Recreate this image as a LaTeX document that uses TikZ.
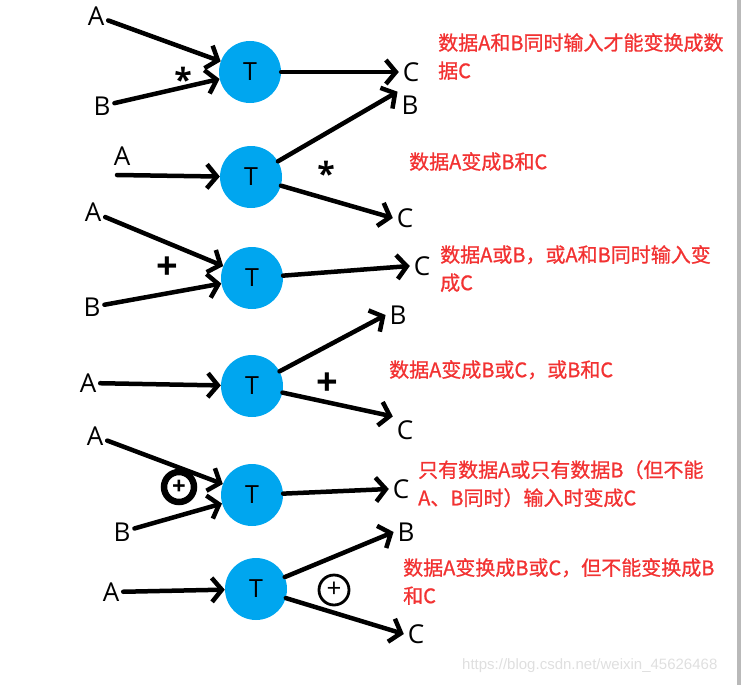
\documentclass[tikz,border=0pt]{standalone}
\usepackage{fontspec}
\setmainfont{Open Sans}
\newfontfamily\cjk[UprightFeatures={FakeBold=0.9}]{Noto Sans CJK SC}
\newfontfamily\wmfont{Liberation Sans}
\usetikzlibrary{arrows.meta}
\definecolor{tcyan}{RGB}{0,166,239}
\definecolor{notered}{RGB}{242,50,50}
\tikzset{
	lbl/.style={inner sep=1pt,outer sep=3pt,font=\fontsize{26}{26}\selectfont},
	proc/.style={circle,fill=tcyan,minimum size=62pt,inner sep=0pt,font=\fontsize{25}{25}\selectfont},
	flow/.style={line width=4.5pt,line cap=round,-{Straight Barb[length=10pt,width=24pt]}},
	sign/.style={inner sep=0pt,font=\bfseries\fontsize{32}{32}\selectfont},
	xorsign/.style={circle,draw,inner sep=0pt},
	note/.style={anchor=north west,align=left,inner sep=0pt,text=notered,font=\cjk\fontsize{20}{28}\selectfont},
}
\begin{document}
\begin{tikzpicture}[x=1pt,y=-1pt]
		\useasboundingbox (0,0) rectangle (741,685);
		\fill[gray!55] (737,0) rectangle (741,685);

		\node[lbl] (a1) at (96,16) {A};
		\node[lbl] (b1) at (102,106) {B};
		\node[proc] (t1) at (250,72) {T};
		\node[lbl] (c1) at (411,72) {C};
		\node[sign] (star1) at (183,79) {*};
		\draw[flow] (a1) -- (t1);
		\draw[flow] (b1) -- (t1);
		\draw[flow] (t1) -- (c1.west);

		\node[lbl] (a2) at (122,156) {A};
		\coordinate (in2) at (117,175);
		\node[proc] (t2) at (251,177) {T};
		\node[lbl] (b2) at (410,105) {B};
		\node[lbl] (c2) at (405,218) {C};
		\node[sign] (star2) at (326,173) {*};
		\draw[flow] (in2) -- (t2);
		\draw[flow] (t2) -- (b2.north west);
		\draw[flow] (t2) -- (c2.west);

		\node[lbl] (a3) at (93,212) {A};
		\node[lbl] (b3) at (92,307) {B};
		\node[proc] (t3) at (252,278) {T};
		\node[lbl] (c3) at (422,266) {C};
		\node[sign,font=\bfseries\fontsize{38}{38}\selectfont] (plus3) at (167,268) {+};
		\draw[flow] (a3) -- (t3);
		\draw[flow] (b3) -- (t3);
		\draw[flow] (t3) -- (c3.west);

		\node[lbl] (a4) at (88,383) {A};
		\node[proc] (t4) at (252,386) {T};
		\node[lbl] (b4) at (398,315) {B};
		\node[lbl] (c4) at (405,430) {C};
		\node[sign,font=\bfseries\fontsize{38}{38}\selectfont] (plus4) at (327,384) {+};
		\draw[flow] (a4) -- (t4);
		\draw[flow] (t4) -- (b4.west);
		\draw[flow] (t4) -- (c4.north west);

		\node[lbl] (a5) at (95,436) {A};
		\node[lbl] (b5) at (122,532) {B};
		\node[proc] (t5) at (252,495) {T};
		\node[lbl] (c5) at (401,489) {C};
		\node[xorsign,line width=6.5pt,minimum size=30pt,font=\bfseries\fontsize{24}{24}\selectfont] (xor5) at (179,487) {+};
		\draw[flow] (a5) -- (t5);
		\draw[flow] (b5) -- (t5);
		\draw[flow] (t5) -- (c5.west);

		\node[lbl] (a6) at (111,592) {A};
		\node[proc] (t6) at (256,589) {T};
		\node[lbl] (b6) at (406,532) {B};
		\node[lbl] (c6) at (416,634) {C};
		\node[xorsign,line width=2.8pt,minimum size=30pt,font=\fontsize{26}{26}\selectfont] (xor6) at (334,590) {+};
		\draw[flow] (a6) -- (t6);
		\draw[flow] (t6) -- (b6.west);
		\draw[flow] (t6) -- (c6.west);

		\node[note] (n1) at (438,33) {数据A和B同时输入才能变换成数\\据C};
		\node[note] (n2) at (409,152) {数据A变成B和C};
		\node[note] (n3) at (440,245) {数据A或B，或A和B同时输入变\\成C};
		\node[note] (n4) at (389,360) {数据A变成B或C，或B和C};
		\node[note] (n5) at (418,460) {只有数据A或只有数据B（但不能\\A、B同时）输入时变成C};
		\node[note] (n6) at (403,558) {数据A变换成B或C，但不能变换成B\\和C};
		\node[anchor=west,inner sep=0pt,text=gray!25,font=\wmfont\fontsize{15}{15}\selectfont] (mark) at (462,666) {https://blog.csdn.net/weixin\_45626468};
	\end{tikzpicture}
\end{document}
